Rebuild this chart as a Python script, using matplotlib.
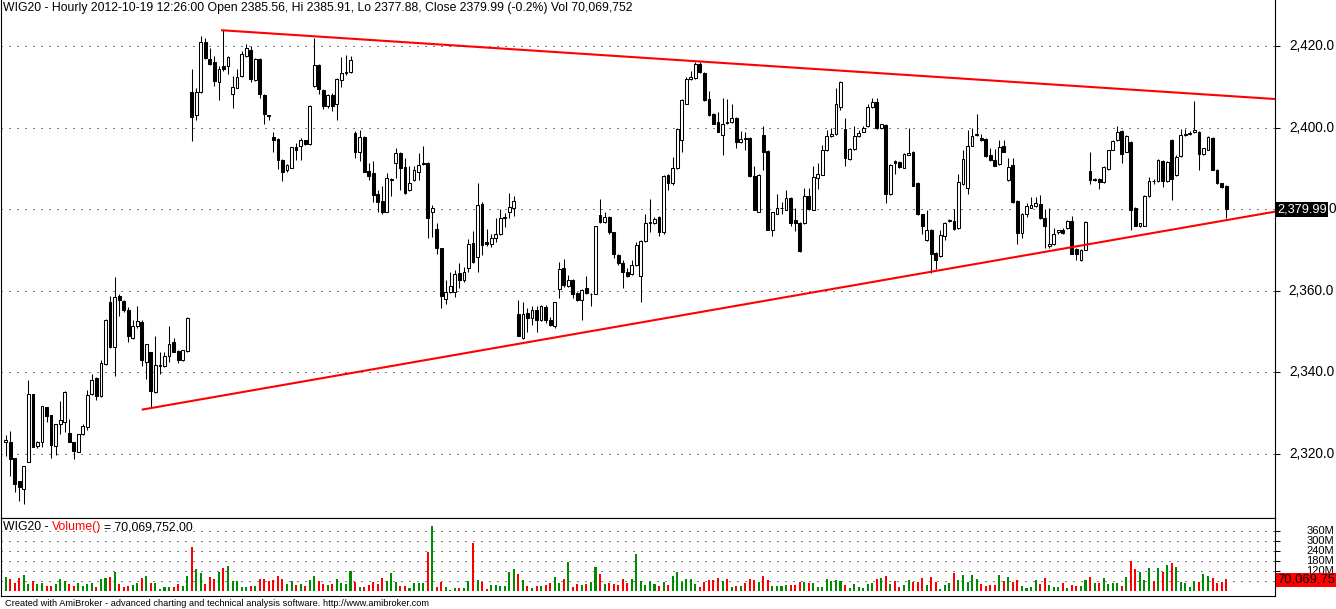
import matplotlib
matplotlib.use("Agg")
import matplotlib.pyplot as plt
import matplotlib.transforms as mtransforms
import numpy as np

plt.rcParams['font.family'] = ['Liberation Sans', 'DejaVu Sans']
plt.rcParams['lines.scale_dashes'] = False

# ---------------- data (hourly WIG20 bars) ----------------
opens = [
    2322.9, 2322.9, 2318.9, 2313.4, 2311.3, 2318.1, 2334.6, 2321.9, 2323.0, 2331.5,
    2329.6, 2322.0, 2327.4, 2327.8, 2325.2, 2322.9, 2320.6, 2324.8, 2326.5, 2334.8,
    2338.6, 2334.1, 2342.1, 2357.2, 2346.1, 2358.6, 2357.5, 2355.2, 2348.5, 2351.3,
    2352.3, 2342.5, 2344.9, 2335.3, 2341.5, 2341.5, 2343.9, 2347.4, 2345.2, 2343.0,
    2345.2, 2408.8, 2403.1, 2408.6, 2420.9, 2416.8, 2416.0, 2411.1, 2415.2, 2415.0,
    2408.3, 2409.8, 2412.7, 2417.6, 2419.1, 2411.6, 2416.8, 2408.0, 2403.1, 2397.7,
    2397.2, 2392.1, 2389.5, 2390.2, 2395.2, 2395.4, 2396.9, 2395.9, 2410.3, 2415.3,
    2409.3, 2405.2, 2408.1, 2405.7, 2411.7, 2413.4, 2413.7, 2398.7, 2393.9, 2397.7,
    2389.4, 2388.9, 2383.6, 2382.0, 2379.4, 2387.2, 2391.2, 2393.8, 2390.3, 2384.6,
    2387.1, 2389.2, 2391.0, 2391.3, 2379.2, 2375.1, 2370.4, 2358.0, 2359.6, 2359.6,
    2364.4, 2362.7, 2365.5, 2371.7, 2368.4, 2381.2, 2371.9, 2371.4, 2373.0, 2373.8,
    2377.8, 2379.2, 2380.4, 2354.2, 2348.5, 2354.6, 2353.4, 2355.2, 2352.9, 2356.0,
    2352.8, 2351.3, 2360.4, 2365.5, 2361.1, 2362.7, 2359.5, 2357.8, 2360.6, 2359.1,
    2359.3, 2378.6, 2376.9, 2378.1, 2374.3, 2368.8, 2366.8, 2364.5, 2364.0, 2366.2,
    2363.7, 2372.2, 2376.7, 2376.5, 2378.1, 2374.3, 2388.5, 2386.3, 2390.0, 2396.9,
    2405.9, 2411.9, 2412.1, 2415.7, 2413.5, 2407.0, 2403.3, 2401.3, 2398.3, 2401.4,
    2401.4, 2402.3, 2396.4, 2397.4, 2397.4, 2388.1, 2379.4, 2398.2, 2394.3, 2375.0,
    2378.9, 2380.2, 2379.9, 2382.7, 2377.3, 2376.6, 2376.6, 2383.2, 2379.9, 2387.7,
    2388.5, 2394.4, 2397.9, 2398.5, 2405.0, 2399.7, 2392.3, 2394.8, 2397.9, 2399.0,
    2400.3, 2405.1, 2406.2, 2399.8, 2400.6, 2383.7, 2391.7, 2391.5, 2390.2, 2393.4,
    2394.1, 2386.4, 2378.7, 2372.5, 2375.0, 2369.3, 2368.5, 2373.4, 2377.0, 2377.1,
    2375.3, 2386.1, 2385.3, 2395.6, 2398.2, 2397.4, 2397.2, 2393.3, 2392.1, 2391.0,
    2395.4, 2387.2, 2390.8, 2382.0, 2374.2, 2378.9, 2380.4, 2380.7, 2381.2, 2377.9,
    2370.9, 2371.4, 2374.3, 2374.8, 2375.3, 2377.1, 2370.3, 2367.6, 2370.1, 2389.4,
    2387.1, 2387.4, 2386.6, 2389.9, 2394.6, 2396.9, 2399.2, 2394.1, 2396.4, 2380.4,
    2375.8, 2376.0, 2383.2, 2387.0, 2386.8, 2391.8, 2386.9, 2396.9, 2388.4, 2393.0,
    2398.2, 2398.4, 2398.8, 2399.0, 2393.6, 2394.6, 2397.4, 2389.7, 2386.3, 2385.56,
]
highs = [
    2324.7, 2325.6, 2318.9, 2313.4, 2317.0, 2338.1, 2334.6, 2323.2, 2331.7, 2331.5,
    2329.6, 2327.3, 2333.0, 2335.5, 2328.6, 2322.9, 2325.0, 2327.3, 2335.6, 2339.7,
    2338.8, 2343.0, 2353.2, 2358.8, 2363.5, 2359.1, 2357.8, 2356.0, 2352.8, 2356.2,
    2352.9, 2347.0, 2344.9, 2348.8, 2344.9, 2344.9, 2351.3, 2348.5, 2345.4, 2345.6,
    2353.5, 2414.4, 2409.6, 2422.5, 2421.9, 2419.6, 2417.6, 2415.2, 2423.8, 2417.5,
    2412.6, 2414.4, 2418.8, 2420.4, 2420.1, 2417.0, 2417.0, 2408.2, 2403.1, 2398.8,
    2397.5, 2392.3, 2391.0, 2395.3, 2396.2, 2397.4, 2397.0, 2405.5, 2422.0, 2415.5,
    2409.5, 2408.3, 2408.5, 2412.1, 2417.3, 2417.8, 2417.5, 2399.2, 2399.3, 2398.0,
    2391.2, 2391.8, 2384.6, 2385.6, 2388.9, 2387.7, 2394.9, 2394.0, 2392.5, 2390.5,
    2390.7, 2393.8, 2395.4, 2391.5, 2381.0, 2376.6, 2370.6, 2362.6, 2364.5, 2365.0,
    2366.8, 2365.8, 2372.7, 2374.7, 2386.4, 2381.7, 2375.1, 2373.8, 2377.9, 2380.0,
    2379.1, 2384.0, 2383.2, 2357.7, 2357.2, 2355.9, 2356.2, 2356.2, 2356.5, 2356.4,
    2353.6, 2357.3, 2367.1, 2367.8, 2363.9, 2362.9, 2359.7, 2360.4, 2363.7, 2359.5,
    2376.0, 2382.5, 2379.2, 2378.3, 2374.5, 2369.0, 2367.6, 2365.5, 2367.6, 2372.0,
    2372.4, 2378.9, 2382.5, 2378.0, 2378.3, 2388.3, 2388.7, 2392.8, 2399.9, 2406.9,
    2412.4, 2413.9, 2416.0, 2416.0, 2413.7, 2409.0, 2403.5, 2403.9, 2407.2, 2407.0,
    2405.7, 2402.5, 2399.2, 2399.0, 2397.6, 2390.5, 2388.7, 2400.3, 2394.5, 2379.4,
    2383.8, 2381.8, 2384.6, 2382.9, 2380.2, 2376.8, 2385.1, 2385.1, 2390.7, 2391.2,
    2395.7, 2399.5, 2399.8, 2409.6, 2411.5, 2402.3, 2395.0, 2400.3, 2399.5, 2400.3,
    2405.9, 2407.3, 2407.3, 2401.0, 2400.8, 2391.0, 2392.0, 2391.7, 2393.8, 2399.8,
    2394.3, 2386.6, 2378.9, 2379.9, 2375.2, 2369.5, 2375.0, 2376.8, 2377.5, 2380.1,
    2388.6, 2394.4, 2399.3, 2399.8, 2403.3, 2398.4, 2397.4, 2395.1, 2394.8, 2396.9,
    2397.0, 2392.5, 2392.6, 2382.2, 2379.1, 2381.5, 2383.0, 2383.0, 2383.5, 2380.1,
    2380.4, 2375.5, 2375.0, 2375.3, 2377.4, 2378.4, 2370.5, 2370.3, 2377.1, 2394.1,
    2387.6, 2387.6, 2390.6, 2394.6, 2397.0, 2400.3, 2399.4, 2398.1, 2396.6, 2380.6,
    2376.7, 2383.5, 2388.0, 2387.3, 2392.2, 2392.1, 2391.8, 2397.1, 2393.3, 2399.7,
    2399.7, 2399.2, 2406.5, 2399.2, 2395.1, 2397.9, 2397.6, 2389.9, 2386.5, 2385.91,
]
lows = [
    2319.6, 2314.7, 2310.6, 2308.5, 2307.8, 2318.1, 2321.8, 2321.5, 2321.6, 2327.9,
    2319.1, 2319.8, 2325.0, 2325.5, 2322.9, 2318.8, 2320.4, 2324.6, 2326.0, 2334.5,
    2333.2, 2334.0, 2341.8, 2346.0, 2339.0, 2353.7, 2354.9, 2347.4, 2348.3, 2351.0,
    2341.5, 2338.4, 2331.4, 2335.0, 2339.5, 2341.3, 2342.5, 2344.9, 2342.3, 2342.8,
    2345.0, 2396.6, 2401.8, 2408.4, 2416.7, 2415.3, 2410.1, 2406.8, 2413.9, 2413.1,
    2404.9, 2409.6, 2412.5, 2417.4, 2411.1, 2411.4, 2407.3, 2401.0, 2401.8, 2394.1,
    2389.9, 2386.8, 2389.0, 2390.0, 2392.0, 2392.0, 2395.7, 2395.7, 2410.0, 2408.3,
    2404.5, 2404.8, 2404.0, 2401.8, 2410.0, 2413.0, 2413.5, 2392.6, 2391.7, 2389.0,
    2387.2, 2381.7, 2379.4, 2378.7, 2379.2, 2383.3, 2387.7, 2384.8, 2383.8, 2384.4,
    2387.0, 2387.2, 2390.8, 2373.0, 2373.2, 2369.1, 2355.9, 2356.8, 2359.4, 2358.5,
    2360.8, 2362.1, 2364.7, 2366.8, 2364.7, 2368.8, 2371.0, 2370.7, 2371.9, 2373.6,
    2375.6, 2377.8, 2378.3, 2348.8, 2348.3, 2350.0, 2351.6, 2350.0, 2352.7, 2352.0,
    2351.4, 2351.0, 2358.2, 2361.0, 2360.9, 2358.2, 2357.6, 2352.9, 2359.3, 2356.2,
    2359.1, 2376.5, 2376.7, 2374.0, 2368.1, 2366.4, 2360.8, 2363.3, 2363.8, 2366.0,
    2357.3, 2372.0, 2374.3, 2376.3, 2373.5, 2374.0, 2384.6, 2386.0, 2389.8, 2394.1,
    2405.7, 2411.7, 2411.9, 2413.5, 2406.6, 2402.9, 2400.8, 2398.8, 2393.4, 2400.9,
    2401.2, 2394.9, 2396.2, 2394.6, 2387.9, 2379.7, 2379.2, 2389.5, 2374.8, 2373.5,
    2378.7, 2378.9, 2379.7, 2376.0, 2374.7, 2369.6, 2376.4, 2379.9, 2379.7, 2385.0,
    2388.3, 2394.2, 2397.7, 2398.3, 2404.4, 2390.7, 2392.0, 2394.6, 2397.7, 2398.8,
    2400.1, 2404.9, 2399.6, 2399.6, 2381.4, 2383.5, 2388.7, 2390.2, 2390.0, 2393.2,
    2385.6, 2378.5, 2373.8, 2372.3, 2364.4, 2365.4, 2368.3, 2372.5, 2376.8, 2375.0,
    2375.1, 2385.9, 2383.8, 2395.4, 2398.0, 2396.8, 2392.9, 2391.8, 2390.5, 2390.8,
    2393.9, 2387.0, 2381.5, 2371.4, 2373.0, 2378.0, 2380.2, 2380.5, 2377.5, 2370.6,
    2370.4, 2371.2, 2374.0, 2373.9, 2375.1, 2368.9, 2367.5, 2367.4, 2369.9, 2386.1,
    2386.9, 2385.0, 2386.4, 2389.7, 2394.4, 2396.7, 2391.2, 2393.9, 2374.8, 2375.8,
    2375.6, 2375.8, 2383.0, 2386.2, 2386.6, 2385.4, 2386.7, 2382.2, 2388.2, 2392.8,
    2398.0, 2398.2, 2398.6, 2389.7, 2393.4, 2394.4, 2389.5, 2386.1, 2385.2, 2377.88,
]
closes = [
    2323.4, 2318.8, 2312.6, 2311.8, 2317.0, 2334.6, 2321.8, 2322.9, 2331.7, 2329.4,
    2322.2, 2327.3, 2328.4, 2335.1, 2322.9, 2320.7, 2324.8, 2326.8, 2334.5, 2338.1,
    2334.3, 2342.3, 2352.8, 2346.2, 2358.5, 2357.7, 2355.2, 2349.0, 2351.3, 2352.6,
    2343.0, 2347.0, 2335.4, 2341.7, 2341.8, 2343.9, 2347.0, 2345.1, 2343.0, 2345.4,
    2353.3, 2402.6, 2408.8, 2420.9, 2417.0, 2415.7, 2411.4, 2414.4, 2414.4, 2417.3,
    2410.0, 2412.4, 2418.1, 2419.4, 2411.8, 2416.8, 2408.3, 2403.4, 2402.8, 2397.0,
    2392.1, 2389.2, 2390.8, 2395.2, 2394.6, 2396.9, 2395.9, 2405.2, 2415.3, 2409.5,
    2405.4, 2408.0, 2405.4, 2411.9, 2413.5, 2413.7, 2416.5, 2394.1, 2397.7, 2389.2,
    2388.2, 2383.5, 2381.8, 2379.4, 2387.6, 2387.4, 2393.8, 2390.0, 2384.0, 2386.4,
    2389.5, 2390.8, 2391.2, 2377.8, 2380.2, 2370.6, 2358.6, 2359.6, 2361.1, 2364.0,
    2362.7, 2364.5, 2371.5, 2367.1, 2381.0, 2371.1, 2371.4, 2372.9, 2373.8, 2377.8,
    2378.1, 2380.5, 2382.0, 2349.0, 2354.4, 2353.4, 2355.4, 2352.9, 2356.2, 2352.8,
    2351.6, 2357.2, 2365.3, 2361.3, 2362.7, 2359.1, 2357.8, 2360.1, 2359.5, 2359.3,
    2375.8, 2376.8, 2378.1, 2374.3, 2368.9, 2366.7, 2364.7, 2363.6, 2366.3, 2371.2,
    2372.2, 2376.6, 2376.8, 2377.6, 2374.3, 2388.1, 2386.4, 2390.0, 2399.7, 2406.7,
    2411.9, 2412.4, 2415.7, 2413.7, 2406.8, 2403.1, 2401.0, 2399.0, 2400.8, 2401.1,
    2402.3, 2396.4, 2397.2, 2397.1, 2388.1, 2379.9, 2388.5, 2394.1, 2375.0, 2379.2,
    2380.4, 2380.4, 2382.7, 2376.6, 2376.6, 2369.8, 2383.2, 2380.1, 2387.9, 2388.7,
    2394.4, 2398.0, 2398.5, 2405.7, 2411.1, 2392.5, 2394.8, 2397.9, 2398.7, 2399.8,
    2405.1, 2406.2, 2399.8, 2400.8, 2383.8, 2390.8, 2391.2, 2390.4, 2393.6, 2393.8,
    2385.8, 2378.7, 2376.0, 2374.8, 2368.9, 2367.6, 2373.7, 2376.6, 2377.3, 2375.2,
    2386.6, 2392.3, 2395.6, 2397.9, 2398.5, 2397.0, 2393.1, 2392.0, 2390.7, 2395.3,
    2394.1, 2390.4, 2381.7, 2374.2, 2378.9, 2380.7, 2381.0, 2381.4, 2377.8, 2375.8,
    2371.4, 2374.0, 2374.8, 2374.2, 2377.0, 2369.1, 2368.9, 2370.1, 2376.9, 2387.2,
    2387.4, 2386.6, 2390.4, 2394.4, 2396.7, 2398.8, 2393.6, 2397.9, 2379.9, 2376.0,
    2376.5, 2383.3, 2386.8, 2386.8, 2392.0, 2386.8, 2391.6, 2387.4, 2392.8, 2398.2,
    2398.5, 2398.7, 2399.3, 2393.5, 2394.9, 2397.7, 2389.7, 2386.3, 2385.4, 2379.99,
]
volumes_m = [
    84, 74, 50, 78, 96, 42, 62, 42, 50, 30,
    30, 42, 70, 62, 42, 30, 46, 30, 42, 50,
    26, 70, 78, 86, 114, 42, 26, 30, 34, 46,
    78, 90, 50, 50, 14, 26, 26, 26, 42, 30,
    90, 264, 132, 108, 42, 84, 74, 114, 136, 150,
    58, 58, 26, 26, 30, 30, 74, 70, 58, 66,
    90, 70, 42, 60, 36, 42, 30, 66, 90, 58,
    42, 36, 42, 70, 50, 42, 120, 54, 26, 26,
    38, 54, 42, 78, 60, 108, 54, 30, 30, 18,
    48, 48, 48, 236, 390, 26, 54, 24, 4, 18,
    18, 18, 60, 288, 66, 54, 12, 36, 36, 30,
    30, 112, 132, 102, 66, 30, 18, 30, 30, 36,
    48, 84, 48, 72, 174, 24, 42, 36, 42, 54,
    144, 102, 42, 48, 42, 36, 72, 48, 72, 222,
    60, 36, 60, 42, 30, 54, 36, 90, 112, 54,
    72, 72, 42, 24, 54, 66, 66, 78, 60, 72,
    24, 30, 30, 48, 72, 66, 54, 90, 66, 30,
    30, 30, 36, 36, 36, 54, 54, 48, 48, 24,
    24, 72, 60, 66, 60, 36, 18, 42, 24, 18,
    42, 48, 72, 78, 90, 42, 60, 24, 36, 66,
    54, 54, 78, 36, 84, 54, 12, 36, 48, 108,
    66, 96, 54, 96, 72, 42, 30, 36, 36, 96,
    60, 84, 54, 66, 30, 18, 24, 66, 42, 78,
    36, 24, 24, 48, 18, 36, 30, 30, 66, 84,
    48, 48, 78, 42, 48, 48, 30, 84, 180, 132,
    114, 66, 138, 60, 138, 114, 156, 168, 144, 54,
    48, 24, 60, 54, 102, 90, 78, 48, 54, 70.07,
]
price_ticks = [2320, 2340, 2360, 2380, 2400, 2420]
volume_ticks_m = [120, 180, 240, 300, 360]
volume_grid_m = [60, 120, 180, 240, 300, 360]
# hand-drawn trend lines: (bar index, price) end points
upper_line_bars = [47.7, 279.8]
upper_line_prices = [2423.85, 2407.0]
lower_line_bars = [30.2, 279.8]
lower_line_prices = [2330.9, 2379.4]
last_price = 2379.99
last_volume_m = 70.07

title = ("WIG20 - Hourly 2012-10-19 12:26:00 Open 2385.56, Hi 2385.91, "
         "Lo 2377.88, Close 2379.99 (-0.2%) Vol 70,069,752")
footer = ("Created with AmiBroker - advanced charting and technical analysis "
          "software. http://www.amibroker.com")

# ---------------- figure ----------------
W, H = 1336, 609
fig = plt.figure(figsize=(W / 100, H / 100), dpi=100)
fig.patch.set_facecolor('white')


def fx(px):
    return px / W


def fy(py):
    return 1 - py / H


ax = fig.add_axes([fx(1), fy(518), (1275 - 1) / W, 518 / H])
axv = fig.add_axes([fx(1), fy(596), (1275 - 1) / W, (596 - 518) / H])

o = np.array(opens)
hi = np.array(highs)
lo = np.array(lows)
c = np.array(closes)
v = np.array(volumes_m)
n = len(c)
x = np.arange(n)
up = c >= o

xlim = (-1.036, 279.77)
for a in (ax, axv):
    a.set_xlim(*xlim)
    a.set_xticks([])
    for s in a.spines.values():
        s.set_linewidth(0.8)
        s.set_color('black')
ax.set_ylim(2304.31, 2431.27)
axv.set_ylim(-30, 438)
ax.spines['top'].set_visible(False)

dot = (0, (0.72, 5.04))
for t in price_ticks:
    ax.axhline(t, color='black', lw=0.72, linestyle=dot, zorder=0)
for t in volume_grid_m:
    axv.axhline(t, color='black', lw=0.72, linestyle=dot, zorder=0)

# candles
ax.vlines(x, lo, hi, colors='black', lw=0.75, zorder=2)
body_h = np.maximum(np.abs(c - o), 0.12)
body_b = np.minimum(o, c)
ax.bar(x[up], body_h[up], bottom=body_b[up], width=0.62, facecolor='white',
       edgecolor='black', lw=0.75, zorder=3)
ax.bar(x[~up], body_h[~up], bottom=body_b[~up], width=0.62, facecolor='black',
       edgecolor='black', lw=0.75, zorder=3)

# trend lines
ax.plot(upper_line_bars, upper_line_prices, color='#FF0000', lw=1.5, zorder=4)
ax.plot(lower_line_bars, lower_line_prices, color='#FF0000', lw=1.5, zorder=4)

# volume
vcolors = np.where(up, '#008C00', '#FF0000')
axv.bar(x, v, width=0.45, color=vcolors, zorder=2)

# right axis ticks
for a, ticks in ((ax, price_ticks), (axv, volume_ticks_m)):
    a.yaxis.tick_right()
    a.set_yticks(ticks)
    a.tick_params(axis='y', direction='out', length=3.6, width=0.72,
                  labelright=False, labelleft=False, color='black')

tr_p = mtransforms.blended_transform_factory(fig.transFigure, ax.transData)
tr_v = mtransforms.blended_transform_factory(fig.transFigure, axv.transData)
for t in price_ticks:
    if t == 2380:
        # mostly hidden behind the last-price marker; only the end shows
        ax.text(fx(1336), t, '0', transform=tr_p, ha='right', va='center',
                fontsize=9.8, color='black', clip_on=False)
    else:
        ax.text(fx(1334), t, f'{t:,.1f}', transform=tr_p, ha='right', va='center',
                fontsize=9.8, color='black', clip_on=False)
for t in volume_ticks_m:
    axv.text(fx(1334), t + 2, f'{t}M', transform=tr_v, ha='right', va='center',
             fontsize=8, color='black', clip_on=False)

ax.text(fx(1277), last_price, f'{last_price:,.2f}', transform=tr_p, ha='left',
        va='center', fontsize=9.2, color='white', clip_on=False, zorder=10,
        bbox=dict(boxstyle='square,pad=0.12', facecolor='black', edgecolor='none'))
axv.text(fx(1277), last_volume_m - 3, '70,069,75', transform=tr_v, ha='left',
         va='center', fontsize=9.4, color='black', clip_on=False, zorder=10,
         bbox=dict(boxstyle='square,pad=0.1', facecolor='#FF0000', edgecolor='none'))

# titles
fig.text(fx(3), fy(8), title, ha='left', va='center', fontsize=8.8, color='black')
t1 = fig.text(fx(3), fy(527), 'WIG20 -', ha='left', va='center', fontsize=8.8,
              color='black')
t2 = fig.text(0, 0, 'Volume()', ha='left', va='bottom', fontsize=8.8, color='#FF0000')
t3 = fig.text(0, 0, '= 70,069,752.00', ha='left', va='bottom', fontsize=8.8,
              color='black')
fig.canvas.draw()
r = fig.canvas.get_renderer()
bb1 = t1.get_window_extent(r)
t2.set_position((fx(bb1.x1 + 3), bb1.y0 / H))
fig.canvas.draw()
bb2 = t2.get_window_extent(r)
t3.set_position((fx(bb2.x1 + 3), bb1.y0 / H))

fig.text(fx(5), fy(603.5), footer, ha='left', va='center', fontsize=6.7,
         color='black')

fig.savefig('out.png', dpi=100, facecolor='white')
